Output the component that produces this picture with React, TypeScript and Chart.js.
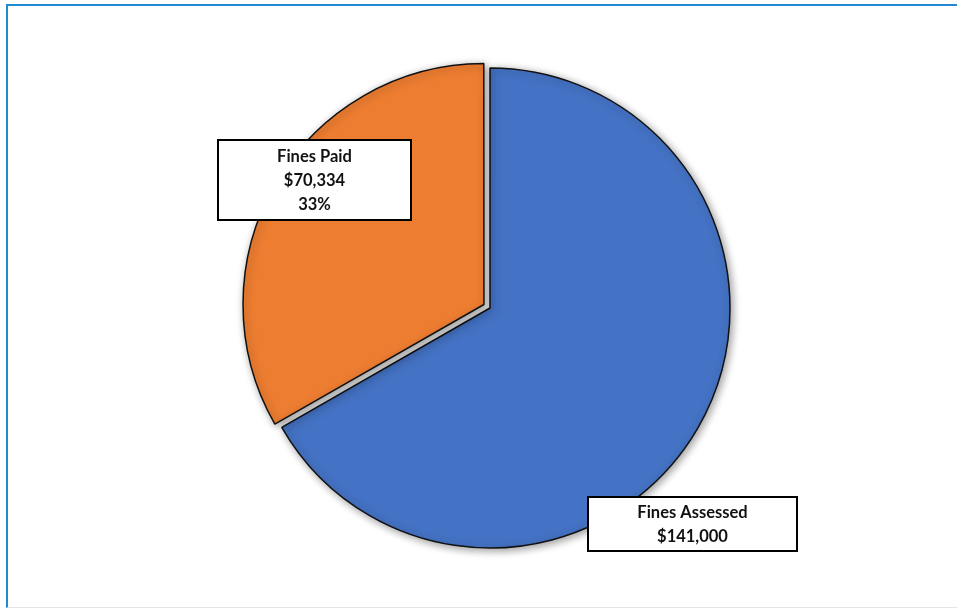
import React, { useEffect, useRef } from "react";
import { Chart, registerables } from "chart.js";

Chart.register(...registerables);

const categories = ["Fines Assessed", "Fines Paid"];
const values = [141000, 70334];
const valueLabels = ["$141,000", "$70,334"];
const percentLabels = ["", "33%"];
const colors = ["#4472C4", "#ED7D31"];

const shadowPlugin = {
  id: "softShadow",
  beforeDatasetsDraw(chart: any) {
    const ctx = chart.ctx;
    ctx.save();
    ctx.shadowColor = "rgba(0,0,0,0.4)";
    ctx.shadowBlur = 8;
    ctx.shadowOffsetX = 2;
    ctx.shadowOffsetY = 2;
  },
  afterDatasetsDraw(chart: any) {
    chart.ctx.restore();
  },
};

// label boxes positioned relative to the pie centre (manual callouts)
const boxes = [
  { dx: 98, dy: 189, w: 209, h: 54, lines: [categories[0], valueLabels[0]] },
  { dx: -272, dy: -168, w: 193, h: 80, lines: [categories[1], valueLabels[1], percentLabels[1]] },
];

const labelPlugin = {
  id: "calloutLabels",
  afterDraw(chart: any) {
    const ctx = chart.ctx;
    const arc = chart.getDatasetMeta(0).data[0];
    const cx = arc.x;
    const cy = arc.y;
    ctx.save();
    boxes.forEach((b) => {
      const x = cx + b.dx;
      const y = cy + b.dy;
      ctx.fillStyle = "#ffffff";
      ctx.fillRect(x, y, b.w, b.h);
      ctx.lineWidth = 2;
      ctx.strokeStyle = "#000000";
      ctx.strokeRect(x, y, b.w, b.h);
      ctx.fillStyle = "#111111";
      ctx.font = "bold 16.5px Lato, 'Open Sans', sans-serif";
      ctx.textAlign = "center";
      ctx.textBaseline = "middle";
      const lh = 24;
      const startY = y + b.h / 2 - ((b.lines.length - 1) * lh) / 2 + 1;
      b.lines.forEach((t, i) => {
        ctx.fillText(t, x + b.w / 2, startY + i * lh);
      });
    });
    ctx.restore();
  },
};

export default function App() {
  const ref = useRef<HTMLCanvasElement | null>(null);
  useEffect(() => {
    if (!ref.current) return;
    const chart = new Chart(ref.current, {
      type: "pie",
      data: {
        labels: categories,
        datasets: [
          {
            data: values,
            backgroundColor: colors,
            borderColor: "#111111",
            borderWidth: 1.5,
            offset: [0, 28],
            radius: 240,
          } as any,
        ],
      },
      options: {
        animation: false,
        responsive: false,
        maintainAspectRatio: false,
        layout: { padding: { left: 23, top: 5, right: 0, bottom: 0 } },
        plugins: {
          legend: { display: false },
          tooltip: { enabled: false },
        },
      },
      plugins: [shadowPlugin, labelPlugin],
    });
    return () => chart.destroy();
  }, []);
  return (
    <div
      style={{
        position: "fixed",
        left: 0,
        top: 0,
        width: 957,
        height: 611,
        overflow: "hidden",
        background: "#ffffff",
      }}
    >
      <div
        style={{
          position: "absolute",
          left: 6,
          top: 4,
          width: 1000,
          height: 604,
          borderTop: "2px solid #1F8AD2",
          borderLeft: "2px solid #1F8AD2",
          borderBottom: "1px solid #e6e6e6",
          boxSizing: "border-box",
        }}
      />
      <canvas
        ref={ref}
        width={957}
        height={611}
        style={{ position: "absolute", left: 0, top: 0, width: 957, height: 611 }}
      />
    </div>
  );
}
